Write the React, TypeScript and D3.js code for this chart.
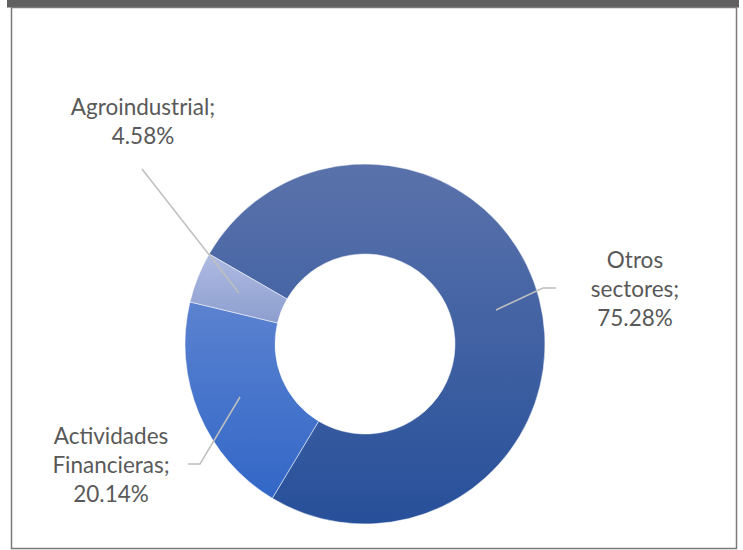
import React from "react";
import * as d3 from "d3";

const categories = ["Otros sectores", "Actividades Financieras", "Agroindustrial"];
const values = [75.28, 20.14, 4.58];
const labelLines = [
  ["Otros", "sectores;", "75.28%"],
  ["Actividades", "Financieras;", "20.14%"],
  ["Agroindustrial;", "4.58%"],
];
const gradTop = ["#5a72ab", "#5b82d0", "#aebbe2"];
const gradBottom = ["#27509a", "#3267c7", "#8d9ecf"];

const W = 743;
const H = 550;
const cx = 365;
const cy = 344;
const outerR = 180;
const innerR = 90;

// label layout (center x, first baseline y) and leader polylines
const labelPos = [
  { x: 635, y: 268 },
  { x: 111, y: 444 },
  { x: 143, y: 115 },
];
const leaders: [number, number][][] = [
  [[496, 310], [543, 288], [556, 288]],
  [[240, 397], [200, 464], [188, 464]],
  [[239, 293], [142, 169]],
];

export default function App() {
  const pie = d3
    .pie<number>()
    .sort(null)
    .startAngle(-Math.PI / 3)
    .endAngle(-Math.PI / 3 + 2 * Math.PI);
  const arcs = pie(values);
  const arc = d3.arc<d3.PieArcDatum<number>>().innerRadius(innerR).outerRadius(outerR);
  const line = d3.line();

  return (
    <svg width={W} height={H} style={{ position: "absolute", left: 0, top: 0, background: "#fff" }}>
      <defs>
        {arcs.map((a, i) => (
          <linearGradient key={i} id={`g${i}`} x1="0" y1="0" x2="0" y2="1">
            <stop offset="0" stopColor={gradTop[i]} />
            <stop offset="1" stopColor={gradBottom[i]} />
          </linearGradient>
        ))}
      </defs>
      <rect x={7} y={0} width={732} height={7.5} fill="#5f605f" />
      <rect x={11.5} y={7.5} width={725} height={541} fill="none" stroke="#7a7a7a" strokeWidth={1.5} />
      <g transform={`translate(${cx},${cy})`}>
        {arcs.map((a, i) => (
          <path key={categories[i]} d={arc(a) || ""} fill={`url(#g${i})`} stroke="#ffffff" strokeWidth={0.5} />
        ))}
      </g>
      {leaders.map((pts, i) => (
        <path key={i} d={line(pts) || ""} fill="none" stroke="#bfbfbf" strokeWidth={1.5} />
      ))}
      {labelLines.map((lines, i) => (
        <text
          key={i}
          x={labelPos[i].x}
          y={labelPos[i].y}
          textAnchor="middle"
          fontFamily="Lato, 'Open Sans', sans-serif"
          fontSize={22.5}
          fill="#595959"
        >
          {lines.map((t, j) => (
            <tspan key={j} x={labelPos[i].x} y={labelPos[i].y + j * 29}>
              {t}
            </tspan>
          ))}
        </text>
      ))}
    </svg>
  );
}
